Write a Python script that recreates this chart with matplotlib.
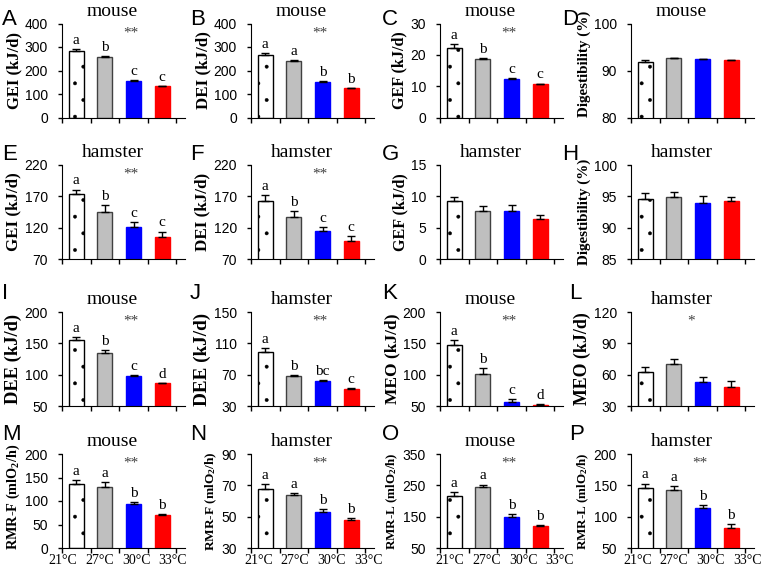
import matplotlib.pyplot as plt
import numpy as np

plt.rcParams["font.family"] = "Liberation Sans"
plt.rcParams["mathtext.default"] = "regular"
plt.rcParams["hatch.linewidth"] = 0.3

SERIF = "Liberation Serif"

temps = ["21°C", "27°C", "30°C", "33°C"]
bar_colors = ["white", "#bfbfbf", "#0000ff", "#ff0000"]
edge_colors = ["black", "#404040", "#0000ff", "#ff0000"]

# values (mean, upper error)
gei_mouse = [283, 259, 157, 132]
gei_mouse_err = [8, 4, 4, 3]
dei_mouse = [265, 241, 150, 124]
dei_mouse_err = [10, 4, 4, 1.5]
gef_mouse = [22.3, 18.8, 12.2, 10.7]
gef_mouse_err = [1.0, 0.2, 0.3, 0.15]
dig_mouse = [91.8, 92.7, 92.4, 92.2]
dig_mouse_err = [0.45, 0.0, 0.15, 0.1]

gei_hamster = [174.4, 144.5, 120.9, 104.8]
gei_hamster_err = [6.5, 11, 8.6, 9]
dei_hamster = [162.7, 137, 113.9, 99.5]
dei_hamster_err = [9, 10, 7, 7]
gef_hamster = [9.2, 7.6, 7.6, 6.35]
gef_hamster_err = [0.75, 0.85, 1.0, 0.7]
dig_hamster = [94.6, 94.9, 94.0, 94.2]
dig_hamster_err = [1.0, 0.85, 1.05, 0.75]

dee_mouse = [155.2, 134.4, 98.6, 86.3]
dee_mouse_err = [4.8, 5.3, 0.5, 1.0]
dee_hamster = [98.3, 68.9, 62.0, 51.8]
dee_hamster_err = [5.6, 0.8, 0.9, 1.7]
meo_mouse = [147.7, 101.8, 55.9, 51.0]
meo_mouse_err = [7, 9, 5.8, 1.5]
meo_hamster = [62.7, 70.1, 52.7, 48.6]
meo_hamster_err = [5, 5, 5.5, 5.4]

rmrf_mouse = [136.8, 130.5, 92.6, 69.5]
rmrf_mouse_err = [7, 10.5, 5, 2]
rmrf_hamster = [67.9, 63.9, 52.7, 47.9]
rmrf_hamster_err = [2.7, 1.2, 2.1, 1.3]
rmrl_mouse = [215.4, 244, 149.6, 120]
rmrl_mouse_err = [12.7, 8.5, 8.5, 3]
rmrl_hamster = [146.4, 142.2, 114.6, 81.8]
rmrl_hamster_err = [6.4, 6.4, 3.7, 6.9]

abc4 = ["a", "b", "c", "c"]
aabb = ["a", "a", "b", "b"]

# (letter, species, ylabel, means, errs, yticks, group letters, significance)
panels = [
    ("A", "mouse", "GEI (kJ/d)", gei_mouse, gei_mouse_err, [0, 100, 200, 300, 400], abc4, "**"),
    ("B", "mouse", "DEI (kJ/d)", dei_mouse, dei_mouse_err, [0, 100, 200, 300, 400], aabb, "**"),
    ("C", "mouse", "GEF (kJ/d)", gef_mouse, gef_mouse_err, [0, 10, 20, 30], abc4, "**"),
    ("D", "mouse", "Digestibility (%)", dig_mouse, dig_mouse_err, [80, 90, 100], None, None),
    ("E", "hamster", "GEI (kJ/d)", gei_hamster, gei_hamster_err, [70, 120, 170, 220], abc4, "**"),
    ("F", "hamster", "DEI (kJ/d)", dei_hamster, dei_hamster_err, [70, 120, 170, 220], abc4, "**"),
    ("G", "hamster", "GEF (kJ/d)", gef_hamster, gef_hamster_err, [0, 5, 10, 15], None, None),
    ("H", "hamster", "Digestibility (%)", dig_hamster, dig_hamster_err, [85, 90, 95, 100], None, None),
    ("I", "mouse", "DEE (kJ/d)", dee_mouse, dee_mouse_err, [50, 100, 150, 200], ["a", "b", "c", "d"], "**"),
    ("J", "hamster", "DEE (kJ/d)", dee_hamster, dee_hamster_err, [30, 70, 110, 150], ["a", "b", "bc", "c"], "**"),
    ("K", "mouse", "MEO (kJ/d)", meo_mouse, meo_mouse_err, [50, 100, 150, 200], ["a", "b", "c", "d"], "**"),
    ("L", "hamster", "MEO (kJ/d)", meo_hamster, meo_hamster_err, [30, 60, 90, 120], None, "*"),
    ("M", "mouse", "RMR-F (mlO$_2$/h)", rmrf_mouse, rmrf_mouse_err, [0, 50, 100, 150, 200], aabb, "**"),
    ("N", "hamster", "RMR-F (mlO$_2$/h)", rmrf_hamster, rmrf_hamster_err, [30, 50, 70, 90], aabb, "**"),
    ("O", "mouse", "RMR-L (mlO$_2$/h)", rmrl_mouse, rmrl_mouse_err, [50, 150, 250, 350], aabb, "**"),
    ("P", "hamster", "RMR-L (mlO$_2$/h)", rmrl_hamster, rmrl_hamster_err, [50, 100, 150, 200], aabb, "**"),
]

# layout, in pixels of the 762x570 picture
W, H = 762, 570
col_left = [62, 251, 440, 631]
row_top = [23.5, 165, 312, 454]
letter_base = [25, 160, 299, 440]
letter_dx = [-60, -61, -58, -62]
label_center = [1.45, 1.68, 1.77, 1.64]  # temperature labels are spread wider than the bars
# length of each y label in the reference, and where its middle sits
ylabel_len = [77, 77, 78, 107, 78, 78, 78, 107, 90, 93, 90, 93, 106, 100, 98, 98]
ylabel_y = [0.5, 0.5, 0.5, 0.57, 0.5, 0.5, 0.5, 0.5, 0.5, 0.5, 0.5, 0.5, 0.54, 0.5, 0.5, 0.5]
ax_w, ax_h = 123, 94

fig = plt.figure(figsize=(W / 100, H / 100), dpi=100)
renderer = fig.canvas.get_renderer()
x = np.arange(4)

for k, (tag, sp, ylab, vals, err, ticks, groups, sig) in enumerate(panels):
    r, c = divmod(k, 4)
    ax = fig.add_axes([col_left[c] / W, 1 - (row_top[r] + ax_h) / H, ax_w / W, ax_h / H])

    bars = ax.bar(x, vals, width=0.52, color=bar_colors, edgecolor=edge_colors,
                  linewidth=1, zorder=2)
    bars[0].set_hatch(".")
    ax.errorbar(x, vals, yerr=[np.zeros(4), err], fmt="none", ecolor="black",
                elinewidth=1, capsize=3, capthick=1, zorder=3)

    ax.set_xlim(-0.5, 3.8)
    ax.set_ylim(ticks[0], ticks[-1])
    ax.set_yticks(ticks)
    ax.spines[["top", "right"]].set_visible(False)
    ax.tick_params(axis="y", length=3, width=1, pad=7, labelsize=10)
    ax.set_xticks(np.arange(-0.5, 4, 1), minor=True)
    ax.tick_params(axis="x", which="minor", length=3.5, width=1)
    ax.tick_params(axis="x", which="major", length=0, pad=4)
    if r == 3:
        ax.set_xticks(label_center[c] + (x - 1.5) * 1.28)
        ax.set_xticklabels(temps, fontfamily=SERIF, fontsize=10)
    else:
        ax.set_xticks([])

    lab = ax.set_ylabel(ylab, fontfamily=SERIF, fontweight="bold", fontsize=10,
                        labelpad=2, y=ylabel_y[k])
    ext = lab.get_window_extent(renderer)
    lab.set_fontsize(10 * ylabel_len[k] / ext.height)

    ax.text(0.41, 1.13, sp, transform=ax.transAxes, ha="center", va="center",
            fontfamily=SERIF, fontsize=14)

    if groups:
        for i, g in enumerate(groups):
            ax.annotate(g, (i, vals[i] + err[i]), xytext=(0, 1.5), textcoords="offset points",
                        ha="center", va="bottom", fontfamily=SERIF, fontsize=11)
    if sig:
        ax.text(1.9 if sig == "**" else 1.6, 0.9, sig, transform=ax.get_xaxis_transform(),
                ha="center", va="center", fontfamily=SERIF, fontsize=11, color="#404040")

    dx = -69 if ylab.startswith("Digestibility") else letter_dx[c]
    fig.text((col_left[c] + dx) / W, 1 - letter_base[r] / H, tag, ha="left", va="baseline",
             fontsize=16)

fig.savefig("out.png", dpi=100)
